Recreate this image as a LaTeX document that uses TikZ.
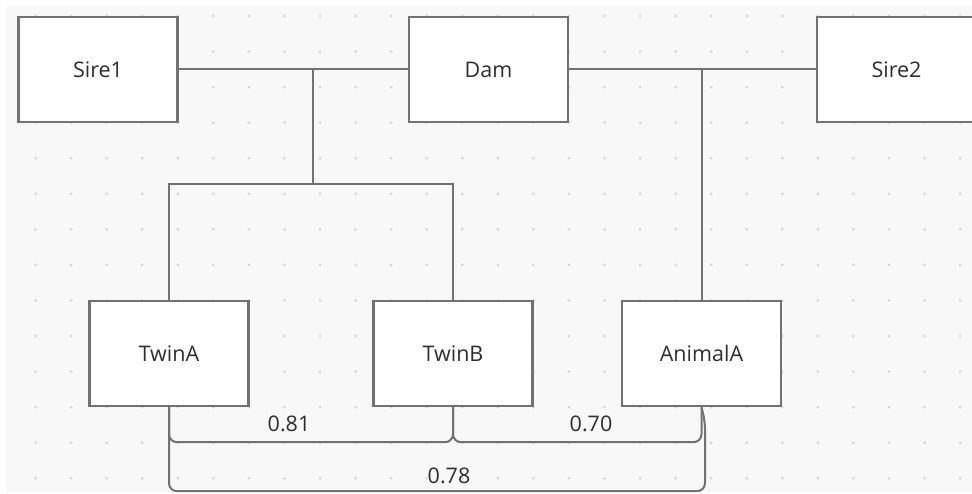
\documentclass[tikz,border=0pt]{standalone}
\usepackage{fontspec}
\setmainfont{Open Sans}
\usetikzlibrary{calc}
\definecolor{bgc}{HTML}{F8F8F8}
\definecolor{dotc}{HTML}{D6D6D6}
\definecolor{linec}{HTML}{727272}
\definecolor{txtc}{HTML}{2E2E2E}
\tikzset{
  animal/.style={draw=linec, line width=2.4pt, fill=white, minimum width=159pt, minimum height=105pt, inner sep=0pt, font=\fontsize{21.5}{25}\selectfont, text=txtc},
  conn/.style={draw=linec, line width=2pt},
  corr/.style={font=\fontsize{21.5}{25}\selectfont, text=txtc, inner sep=0pt}
}
\begin{document}
\begin{tikzpicture}[x=1pt,y=-1pt]
\useasboundingbox (0,0) rectangle (972,494);
\fill[bgc] (6,6) rectangle (972,492);
\foreach \i in {1,...,27}{
  \foreach \j in {0,...,13}{
    \fill[dotc] ({35.56*\i},{16+35.56*\j}) circle (1.5pt);
  }
}
\node[animal] (sire1) at (98,69.5) {Sire1};
\node[animal] (dam) at (488.5,69.5) {Dam};
\node[animal] (sire2) at (896.5,69.5) {Sire2};
\node[animal] (twinA) at (169,353.5) {TwinA};
\node[animal] (twinB) at (453,353.5) {TwinB};
\node[animal] (animalA) at (701.5,353.5) {AnimalA};

\coordinate (j1) at (313,70);
\coordinate (j1b) at (313,184);
\coordinate (j2) at (701.5,70);

\draw[conn] (sire1.east) -- (dam.west);
\draw[conn] (dam.east) -- (sire2.west);
\draw[conn] (j1) -- (j1b);
\draw[conn] (twinA.north) |- (j1b) -| (twinB.north);
\draw[conn] (j2) -- (animalA.north);

\draw[conn, rounded corners=8pt] (twinA.south) |- ($(twinB.south)+(0,35)$) -- (twinB.south);
\draw[conn, rounded corners=8pt] (twinB.south) |- ($(animalA.south)+(0,35)$) -- (animalA.south);
\draw[conn, rounded corners=8pt] (twinA.south) |- ($(animalA.south)+(3.5,84)$) -- ($(animalA.south)+(3.5,14)$) -- (animalA.south);

\node[corr] (l81) at (289,424) {0.81};
\node[corr] (l70) at (591,424) {0.70};
\node[corr] (l78) at (449,476) {0.78};
\end{tikzpicture}
\end{document}
